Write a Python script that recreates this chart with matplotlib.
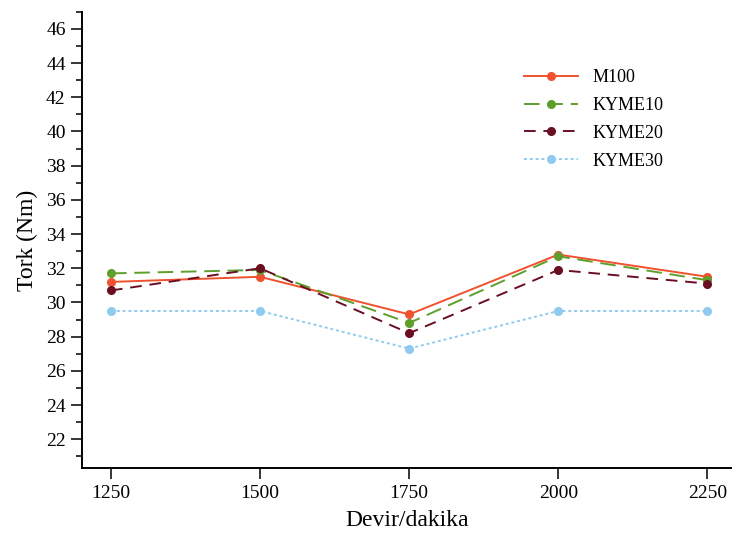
import matplotlib.pyplot as plt
from matplotlib.ticker import MultipleLocator

plt.rcParams['font.family'] = ['Liberation Serif', 'DejaVu Serif']

rpm = [1250, 1500, 1750, 2000, 2250]
m100 = [31.2, 31.5, 29.3, 32.8, 31.5]
kyme10 = [31.7, 31.9, 28.8, 32.7, 31.3]
kyme20 = [30.7, 32.0, 28.2, 31.9, 31.1]
kyme30 = [29.5, 29.5, 27.3, 29.5, 29.5]

fig = plt.figure(figsize=(7.35, 5.37), dpi=100)
ax = fig.add_axes([0.112, 0.128, 0.883, 0.85])

ax.plot(rpm, m100, color='#f0512f', lw=1.4, ls='-', marker='o', ms=5.5, label='M100')
ax.plot(rpm, kyme10, color='#5e9e2c', lw=1.4, ls=(0, (8, 4)), marker='o', ms=5.5, label='KYME10')
ax.plot(rpm, kyme20, color='#6a0f22', lw=1.4, ls=(0, (6, 4)), marker='o', ms=5.5, label='KYME20')
ax.plot(rpm, kyme30, color='#8fcbef', lw=1.4, ls=(0, (1.5, 1.5)), marker='o', ms=5.5, label='KYME30')

ax.set_xlim(1202, 2290)
ax.set_ylim(20.3, 47)
ax.set_xticks(rpm)
ax.set_yticks(range(22, 47, 2))
ax.yaxis.set_minor_locator(MultipleLocator(1))

for s in ['top', 'right']:
    ax.spines[s].set_visible(False)
ax.spines['left'].set_linewidth(1.4)
ax.spines['bottom'].set_linewidth(1.4)
ax.tick_params(axis='both', which='major', direction='out', length=8, width=1.1,
               labelsize=14, pad=4)
ax.tick_params(axis='y', which='minor', direction='out', length=4, width=1.1)

ax.set_xlabel('Devir/dakika', fontsize=17, labelpad=6)
ax.set_ylabel('Tork (Nm)', fontsize=17, labelpad=6)

ax.legend(loc='upper left', bbox_to_anchor=(0.655, 0.91), frameon=False, fontsize=13,
          handlelength=3, labelspacing=0.6)

fig.savefig('out.png', dpi=100)
